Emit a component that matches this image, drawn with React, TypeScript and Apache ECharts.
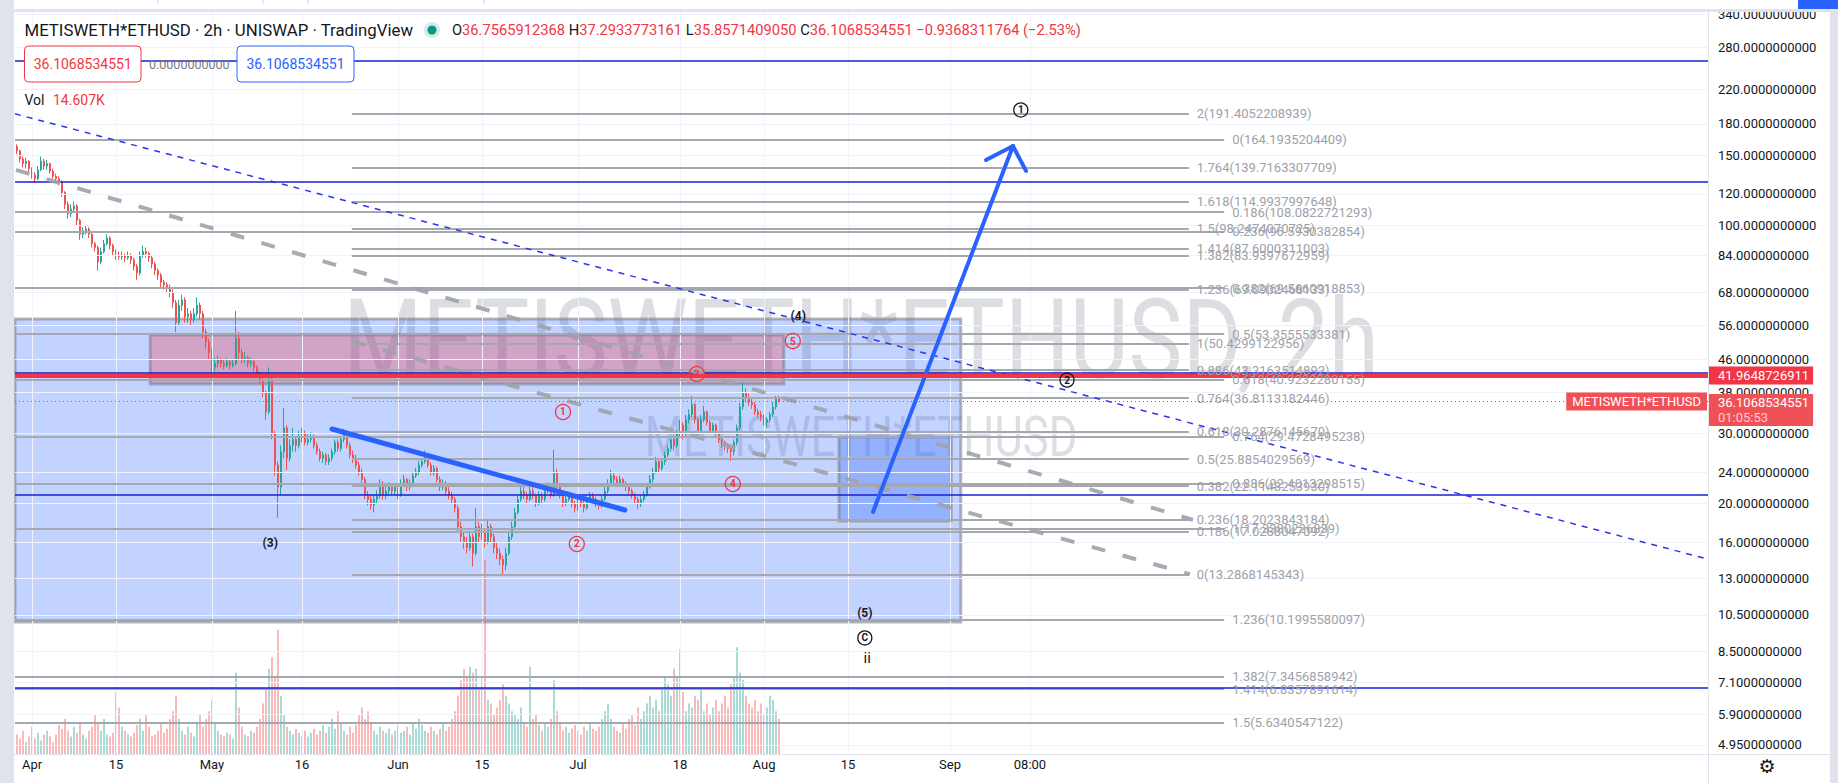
import React, { useEffect, useRef } from 'react';
import * as echarts from 'echarts';

// ---------- data (12h candles, x = days from Apr 1 00:00) ----------
const FIRST_DAY = -2.5;
const CANDLE_STEP = 0.5;
const FIRST_OPEN = 158;

const closes = [
  154, 147, 143, 145, 139, 134, 131, 138, 145, 141, 143, 137, 133, 131, 129, 121, 113,
  107, 110, 112, 103, 95, 97, 98, 95, 90, 88, 81, 86, 90, 93, 89, 86,
  84, 83.5, 84, 83, 84, 82, 79, 76, 84, 86, 85, 83, 80, 77, 75, 72,
  71, 70, 68, 64, 57, 63, 65, 59, 60, 58, 60, 63, 60, 54, 51, 48,
  44, 45, 46, 45, 44.5, 45.5, 44.5, 45, 52, 48, 46, 46.5, 45, 45.5, 44, 42.5,
  41, 38, 34, 41, 30, 25, 22, 27, 31, 26, 28, 29, 28, 29.5, 30, 28.5,
  29, 29.5, 28, 27, 26, 26.5, 25.5, 26, 27, 28.5, 27.5, 29, 30, 28, 26.5, 26,
  25, 24, 23, 21, 20.5, 19.8, 20.5, 21, 22.5, 21, 21.5, 22, 21.5, 22, 21, 22.5,
  23, 22, 22.5, 23.5, 24, 25, 25.5, 26.5, 25, 24, 24.5, 23, 22, 22.5, 21.5, 21,
  20.5, 19.5, 17.5, 16.5, 16, 15.5, 16.5, 15, 17.5, 16.5, 17, 16, 17.5, 16.5, 15.5, 15,
  14.5, 14, 15, 16.5, 17.5, 19, 20.5, 21.5, 21, 20.5, 21.5, 21, 20, 21, 20.5, 21.5,
  22, 21, 24, 22, 21, 20, 20.5, 21, 20, 19.5, 20.5, 20, 19.5, 20.5, 21, 20.5,
  20, 19.8, 20.5, 21.5, 22.5, 23.5, 23, 22.5, 23, 22.5, 22, 21.5, 21, 20.5, 20, 20.5,
  21, 22, 23, 24, 25.5, 24.5, 25.5, 26.5, 27.5, 29, 28, 30, 31.5, 30, 32.5, 33.5,
  35.5, 32.5, 30.5, 32.5, 34, 32, 30.5, 31.5, 30, 29, 28.5, 28, 27.5, 27, 28.5, 31,
  35, 38, 37, 36, 35.5, 34, 33.5, 33, 32, 32.5, 33.5, 35, 36.76, 36.1068534551,
];
const highs = [
  160, 155, 149, 148, 146, 140, 136, 141, 149, 147, 146, 144, 139, 135, 133, 130, 122,
  115, 113, 115, 113, 104, 99, 100, 99, 96, 91, 89, 88, 92, 95, 94, 90,
  87, 86, 86, 85, 86, 85, 83, 80, 86, 89, 88, 86, 84, 81, 78, 76,
  73, 72, 71, 69, 65, 65, 67, 66, 62, 61, 62, 66, 64, 61, 55, 52,
  49, 46.5, 47, 46.5, 46, 46.5, 46, 46, 61, 54, 49, 48, 47, 46.5, 46, 44.5,
  43, 41.5, 38.5, 44, 41.5, 30.5, 25.5, 28, 34.7, 31.5, 29, 31, 29.5, 30.5, 31, 30.5,
  30, 30.2, 29.8, 28.5, 27.5, 27, 26.8, 26.6, 27.5, 29, 29, 29.6, 30.8, 30.3, 28.5, 27.2,
  26.5, 25.5, 24.5, 23.3, 21.5, 21, 21, 21.6, 23, 22.8, 22, 22.6, 22.3, 22.5, 22.3, 23,
  23.6, 23.2, 23, 24, 24.6, 25.6, 26, 27.2, 26.8, 25.4, 25, 24.8, 23.4, 23, 22.8, 22,
  21.4, 20.8, 19.8, 18, 17, 16.5, 17, 16.8, 19.5, 18, 17.8, 17.3, 18.2, 17.8, 16.8, 16,
  15.4, 14.8, 15.5, 17, 18, 19.5, 21, 22.2, 22, 21.4, 22, 22, 21.2, 21.5, 21.3, 22,
  22.6, 22.3, 27.3, 24.5, 22.4, 21.3, 21, 21.4, 21.2, 20.3, 20.8, 20.8, 20.3, 20.8, 21.4, 21.3,
  20.8, 20.4, 20.9, 22, 23, 24.3, 24, 23.4, 23.5, 23.2, 22.8, 22.3, 21.8, 21.3, 20.8, 21,
  21.5, 22.4, 23.6, 24.6, 26.2, 25.8, 26, 27, 28, 29.6, 29.8, 30.6, 32.5, 32, 33.4, 34.5,
  37.3, 35.8, 33, 33.4, 35.2, 34.3, 32.4, 32, 31.8, 30.4, 29.4, 28.8, 28.4, 27.8, 29, 31.6,
  35.8, 40.3, 39, 37.8, 36.8, 36, 34.6, 34.2, 33.5, 33, 34, 36, 37.3, 37.29,
];
const lows = [
  151, 144, 140, 139, 136, 131, 128, 130, 137, 138, 138, 135, 131, 128, 126, 118, 110,
  104, 105, 108, 100, 92, 93, 95, 93, 88, 86, 77, 80, 85, 89, 87, 84,
  82, 82, 82, 81, 82, 80, 77, 73, 75, 83, 83, 81, 78, 75, 73, 70,
  69, 68, 66, 62, 54, 56, 61, 57, 57, 56, 57, 59, 58, 52, 49, 46,
  41, 43, 44, 44, 43.5, 44, 43.5, 44, 44.5, 46, 45, 45, 44, 44, 43, 41.5,
  40, 37, 32.5, 33.5, 29, 23.5, 18.4, 21, 26, 24.3, 25.5, 27, 27, 27.5, 28.5, 28,
  28, 28.5, 27.5, 26.5, 25.5, 25.3, 25, 25, 25.6, 26.5, 27, 27, 28.5, 27.5, 26, 25.3,
  24.5, 23.5, 22.3, 20.5, 19.8, 19.3, 19, 20, 20.6, 20.5, 20.5, 21, 21, 21, 20.5, 20.8,
  22, 21.5, 21.6, 22.2, 23.2, 23.6, 24.6, 25.2, 24.6, 23.5, 23.5, 22.6, 21.5, 21.6, 21, 20.5,
  20, 19, 17, 16, 15.4, 15, 15.2, 13.9, 14.8, 16, 16.2, 15.5, 15.8, 16, 15, 14.5,
  14, 13.3, 13.6, 14.8, 16.2, 17.2, 18.8, 20.2, 20.5, 20, 20.3, 20.5, 19.6, 19.8, 20, 20.2,
  21.2, 20.6, 20.8, 21.5, 20.6, 19.6, 19.7, 20.2, 19.6, 19, 19.2, 19.6, 19, 19.3, 20.2, 20,
  19.6, 19.3, 19.5, 20.3, 21.2, 22.3, 22.5, 22, 22.2, 22, 21.5, 21, 20.6, 20, 19.4, 19.6,
  20.2, 20.8, 21.8, 22.6, 23.8, 24, 24.2, 25, 26.2, 27, 27.2, 27.6, 29.4, 29, 29.6, 31.8,
  33, 31.8, 29.5, 30, 32, 31.4, 30, 30, 29.4, 28.4, 27.6, 27.2, 26.8, 25.6, 26.4, 28,
  30.6, 34.4, 36, 35.2, 34.6, 33.4, 32.8, 32.2, 31.4, 31, 32, 33, 34.5, 35.86,
];
const volumes = [
  10, 8, 12, 6, 9, 14, 8, 11, 7, 10, 12, 9, 6, 10, 15, 13, 18,
  12, 9, 14, 11, 16, 10, 8, 12, 14, 20, 16, 12, 18, 10, 9, 11,
  32, 24, 14, 12, 10, 9, 11, 15, 18, 12, 20, 14, 9, 10, 12, 16,
  11, 13, 18, 22, 30, 18, 12, 10, 14, 11, 9, 16, 20, 14, 18, 22,
  28, 16, 12, 10, 9, 11, 10, 8, 42, 24, 14, 10, 9, 12, 11, 14,
  18, 26, 34, 44, 50, 40, 64, 30, 20, 14, 12, 10, 13, 11, 9, 12,
  9, 11, 13, 10, 12, 15, 11, 14, 18, 13, 22, 16, 12, 10, 14, 11,
  15, 20, 24, 18, 22, 16, 12, 10, 14, 12, 11, 13, 10, 12, 15, 11,
  12, 14, 10, 16, 13, 18, 15, 12, 11, 14, 12, 10, 13, 16, 12, 14,
  18, 22, 30, 38, 44, 40, 45, 42, 44, 34, 40, 100, 28, 26, 20, 24,
  28, 36, 30, 26, 22, 20, 18, 24, 16, 14, 45, 18, 20, 15, 12, 16,
  14, 18, 38, 22, 16, 12, 14, 11, 13, 15, 12, 10, 14, 12, 16, 13,
  12, 14, 18, 22, 26, 18, 14, 12, 11, 16, 13, 18, 20, 15, 24, 18,
  22, 26, 30, 24, 28, 22, 34, 40, 36, 30, 44, 40, 54, 32, 22, 26,
  24, 30, 28, 34, 22, 26, 20, 24, 28, 22, 26, 30, 24, 36, 40, 55,
  42, 38, 30, 26, 24, 28, 22, 26, 20, 24, 30, 28, 22, 18,
];

const priceTicks = [340, 280, 220, 180, 150, 120, 100, 84, 68, 56, 46, 38, 30, 24, 20, 16, 13, 10.5, 8.5, 7.1, 5.9, 4.95];
const timeTickDays = [0, 14, 30, 45, 61, 75, 91, 108, 122, 136, 153, 166.33];
const timeTickLabels = ['Apr', '15', 'May', '16', 'Jun', '15', 'Jul', '18', 'Aug', '15', 'Sep', '08:00'];

// Fibonacci tools: [ratio, price]
const fibA: [number, number][] = [
  [2, 191.4052208939], [1.764, 139.7163307709], [1.618, 114.9937997648], [1.5, 98.2474070725],
  [1.414, 87.6000311003], [1.382, 83.9397672959], [1.236, 69.0902468133], [1, 50.4299122956],
  [0.886, 43.3163514892], [0.764, 36.8113182446], [0.618, 30.287614567], [0.5, 25.8854029569],
  [0.382, 22.114825393], [0.236, 18.2023843184], [0.186, 17.0288047092], [0, 13.2868145343],
];
const fibB: [number, number][] = [
  [0, 164.1935204409], [0.186, 108.0822721293], [0.236, 96.5930382854], [0.382, 69.5660918853],
  [0.5, 53.3555533381], [0.618, 40.9232280155], [0.764, 29.4728495238], [0.886, 22.4013298515],
  [1, 17.3380226839], [1.236, 10.1995580097], [1.382, 7.3456858942], [1.414, 6.8357891614],
  [1.5, 5.6340547122],
];
const blueLevels = [259.2, 128.6, 42.6, 21.1, 6.88];
const LAST_PRICE = 36.1068534551;
const RED_LEVEL = 41.9648726911;

// ---------- axis ranges ----------
const X_MIN = -2.8333, X_MAX = 279.3333;
const Y_MIN = 4.6953, Y_MAX = 343.96;

const F = 'Roboto, "Noto Sans", Arial, sans-serif';

function buildOption() {
  const candleData = closes.map((c, i) => {
    const o = i === 0 ? FIRST_OPEN : closes[i - 1];
    return [FIRST_DAY + i * CANDLE_STEP, o, c, lows[i], highs[i]];
  });
  const volData = volumes.map((v, i) => {
    const o = i === 0 ? FIRST_OPEN : closes[i - 1];
    const up = closes[i] >= o;
    return { value: [FIRST_DAY + i * CANDLE_STEP, v], itemStyle: { color: up ? 'rgba(38,166,154,0.5)' : 'rgba(239,83,80,0.5)' } };
  });

  const gridLines: any[] = [
    ...priceTicks.map((p) => [
      { coord: [X_MIN, p], label: { show: true, position: 'end', distance: 10, formatter: p.toFixed(10), color: '#131722', fontSize: 13, fontFamily: F } },
      { coord: [X_MAX, p] },
    ]),
    ...timeTickDays.map((d, i) => [
      { coord: [d, Y_MIN], label: { show: true, position: 'start', distance: 4, formatter: timeTickLabels[i], color: '#131722', fontSize: 13, fontFamily: F } },
      { coord: [d, Y_MAX] },
    ]),
  ];

  const fibStyle = { color: '#a6a8b0', width: 2, type: 'solid' };
  const fibLabel = (r: number, p: number) => ({
    show: true, position: 'end', distance: 8, formatter: `${r}(${p.toFixed(10)})`, color: '#9ea1aa', fontSize: 13, fontFamily: F,
  });
  const A_START = 53.3, A_END = 192.8, B_END = 198.7;

  const seg = (a: number[], b: number[], ls: any) => [{ coord: a, lineStyle: ls, label: { show: false } }, { coord: b }];
  const hidden = { color: 'rgba(0,0,0,0)', width: 1, type: 'solid', opacity: 1 };

  const blueArrow = { color: '#2962ff', width: 4, type: 'solid', cap: 'round' };
  const drawLines: any[] = [
    ...fibB.map(([r, p]) => [{ coord: [X_MIN, p], lineStyle: fibStyle, label: fibLabel(r, p) }, { coord: [B_END, p] }]),
    ...fibA.map(([r, p]) => [{ coord: [A_START, p], lineStyle: fibStyle, label: fibLabel(r, p) }, { coord: [A_END, p] }]),
    ...blueLevels.map((p) => seg([X_MIN, p], [X_MAX, p], { color: '#1a1fcf', width: 1.5, type: 'solid' })),
    seg([X_MIN, 190.8], [X_MAX, 14.5], { color: '#2d35e8', width: 1.5, type: [6, 6] }),
    seg([-2.67, 137.9], [193.5, 18.2], { color: 'rgba(160,162,170,0.9)', width: 4, type: [14, 18] }),
    seg([53.3, 51.2], [193.0, 13.29], { color: 'rgba(160,162,170,0.9)', width: 4, type: [14, 18] }),
    seg([50.0, 30.8], [98.8, 19.27], { color: '#2962ff', width: 5, type: 'solid', cap: 'round' }),
    seg([140.17, 19.05], [163.5, 158.4], blueArrow),
    seg([163.5, 158.4], [159.0, 146.1], blueArrow),
    seg([163.5, 158.4], [165.67, 137.1], blueArrow),
    [
      { coord: [X_MIN, RED_LEVEL], lineStyle: { color: '#f23645', width: 4, type: 'solid' }, label: { show: true, position: 'end', distance: 0, formatter: '41.9648726911', backgroundColor: '#f23645', color: '#ffffff', padding: [2, 4, 1, 10], fontSize: 13, lineHeight: 15, fontFamily: F } },
      { coord: [X_MAX, RED_LEVEL] },
    ],
    [
      { coord: [X_MIN, LAST_PRICE], lineStyle: { color: '#f23645', width: 1, type: [1, 3] }, label: { show: true, position: 'insideEnd', distance: 1, formatter: 'METISWETH*ETHUSD', backgroundColor: '#f05157', color: '#ffffff', padding: [2, 6, 1, 6], fontSize: 13, lineHeight: 15, fontFamily: F } },
      { coord: [X_MAX, LAST_PRICE] },
    ],
    [
      { coord: [X_MAX - 1, 34.37], lineStyle: hidden, label: { show: true, position: 'end', distance: 0, formatter: '{a|36.1068534551}\n{b|01:05:53}', backgroundColor: '#f05157', padding: [1, 4, 1, 10], rich: { a: { color: '#ffffff', fontSize: 13, lineHeight: 15, fontFamily: F }, b: { color: 'rgba(255,255,255,0.72)', fontSize: 13, lineHeight: 15, fontFamily: F } } } },
      { coord: [X_MAX, 34.37] },
    ],
  ];

  const rects: any[] = [
    [{ coord: [X_MIN, 58.2], itemStyle: { color: 'rgba(41,98,255,0.28)', borderColor: 'rgba(120,123,134,0.55)', borderWidth: 3 } }, { coord: [154.8, 10.08] }],
    [{ coord: [19.7, 53.06], itemStyle: { color: 'rgba(242,54,69,0.3)', borderColor: 'rgba(120,123,134,0.55)', borderWidth: 3 } }, { coord: [125.3, 39.95] }],
    [{ coord: [134.5, 29.4], itemStyle: { color: 'rgba(41,98,255,0.3)', borderColor: 'rgba(120,123,134,0.55)', borderWidth: 3 } }, { coord: [153.2, 18.08] }],
  ];

  const circ = (t: string, d: number, p: number, col: string, size: number) => ({
    coord: [d, p], symbol: 'circle', symbolSize: size,
    itemStyle: { color: 'rgba(255,255,255,0)', borderColor: col, borderWidth: 1.3 },
    label: { show: true, position: 'inside', formatter: t, color: col, fontSize: 10, fontWeight: 'bold', fontFamily: F },
  });
  const txt = (t: string, d: number, p: number, size: number, weight: string) => ({
    coord: [d, p], symbol: 'circle', symbolSize: 1, itemStyle: { color: 'rgba(0,0,0,0)' },
    label: { show: true, position: 'inside', formatter: t, color: '#131722', fontSize: size, fontWeight: weight, fontFamily: F },
  });
  const waveMarks = [
    circ('1', 88.5, 33.98, '#f23645', 15),
    circ('2', 90.8, 15.83, '#f23645', 15),
    circ('3', 110.8, 42.33, '#f23645', 15),
    circ('4', 116.8, 22.4, '#f23645', 15),
    circ('5', 126.8, 51.24, '#f23645', 15),
    circ('1', 164.8, 195.1, '#131722', 14),
    circ('2', 172.5, 40.88, '#131722', 14),
    circ('C', 138.8, 9.19, '#131722', 14),
    txt('(3)', 39.7, 15.92, 12, 'bold'),
    txt('(4)', 127.7, 59.22, 12, 'bold'),
    txt('(5)', 138.8, 10.62, 12, 'bold'),
    txt('ii', 139.2, 8.18, 15, 'normal'),
  ];

  const dummy = (z: number) => ({
    type: 'line', xAxisIndex: 0, yAxisIndex: 0, data: [[X_MIN - 50, 20]], symbol: 'none',
    lineStyle: { opacity: 0 }, silent: true, clip: false, z,
  });

  const T = (text: string, x: number, y: number, size: number, fill: string, extra: any = {}) => ({
    type: 'text', x, y, z: 100, silent: true,
    style: { text, fontSize: size, fontFamily: F, fill, align: 'left', verticalAlign: 'middle', ...extra },
  });

  const graphic: any[] = [
    // watermarks
    { type: 'text', x: 861, y: 340, z: 0, scaleX: 0.81, silent: true, style: { text: 'METISWETH*ETHUSD, 2h', fontSize: 112, fontFamily: F, fill: 'rgba(120,123,134,0.25)', align: 'center', verticalAlign: 'middle' } },
    { type: 'text', x: 861, y: 436, z: 0, scaleX: 0.78, silent: true, style: { text: 'METISWETH*ETHUSD', fontSize: 56, fontFamily: F, fill: 'rgba(120,123,134,0.25)', align: 'center', verticalAlign: 'middle' } },
    // frame
    { type: 'rect', z: 100, silent: true, shape: { x: 0, y: 0, width: 1838, height: 9 }, style: { fill: '#ffffff' } },
    { type: 'rect', z: 100, silent: true, shape: { x: 0, y: 9, width: 1838, height: 3 }, style: { fill: '#e0e3eb' } },
    { type: 'rect', z: 100, silent: true, shape: { x: 0, y: 0, width: 14, height: 783 }, style: { fill: '#e0e3eb' } },
    { type: 'rect', z: 100, silent: true, shape: { x: 1830, y: 0, width: 8, height: 783 }, style: { fill: '#e0e3eb' } },
    { type: 'rect', z: 101, silent: true, shape: { x: 1798, y: 0, width: 40, height: 9 }, style: { fill: '#2962ff' } },
    ...[158, 263, 308, 484].map((x) => ({ type: 'line', z: 100, silent: true, shape: { x1: x, y1: 0, x2: x, y2: 4 }, style: { stroke: '#d1d4dc', lineWidth: 1 } })),
    { type: 'line', z: 99, silent: true, shape: { x1: 1708.5, y1: 12, x2: 1708.5, y2: 783 }, style: { stroke: '#e0e3eb', lineWidth: 1 } },
    { type: 'line', z: 99, silent: true, shape: { x1: 14, y1: 754.5, x2: 1830, y2: 754.5 }, style: { stroke: '#e0e3eb', lineWidth: 1 } },
    { type: 'text', x: 1767, y: 766, z: 100, silent: true, style: { text: '\u2699', fontSize: 19, fontFamily: '"DejaVu Sans", sans-serif', fill: '#131722', align: 'center', verticalAlign: 'middle' } },
    // legend
    T('METISWETH*ETHUSD \u00b7 2h \u00b7 UNISWAP \u00b7 TradingView', 24.5, 30, 16.8, '#131722'),
    { type: 'circle', z: 100, silent: true, shape: { cx: 432, cy: 30, r: 8 }, style: { fill: 'rgba(8,153,129,0.18)' } },
    { type: 'circle', z: 101, silent: true, shape: { cx: 432, cy: 30, r: 4.5 }, style: { fill: '#089981' } },
    {
      type: 'text', x: 452, y: 30, z: 100, silent: true,
      style: {
        text: '{l|O}{v|36.7565912368} {l|H}{v|37.2933773161} {l|L}{v|35.8571409050} {l|C}{v|36.1068534551} {v|\u22120.9368311764 (\u22122.53%)}',
        fontSize: 14.7, fontFamily: F, fill: '#131722', align: 'left', verticalAlign: 'middle',
        rich: { l: { fill: '#131722', color: '#131722', fontSize: 14.7, fontFamily: F }, v: { fill: '#f23645', color: '#f23645', fontSize: 14.7, fontFamily: F } },
      },
    },
    { type: 'rect', z: 100, silent: true, shape: { x: 24.5, y: 46, width: 116.5, height: 36, r: 4 }, style: { fill: '#ffffff', stroke: '#f23645', lineWidth: 1 } },
    { type: 'text', x: 82.75, y: 64, z: 101, silent: true, style: { text: '36.1068534551', fontSize: 14, fontFamily: F, fill: '#f23645', align: 'center', verticalAlign: 'middle' } },
    T('0.0000000000', 149, 64, 12.5, '#787b86'),
    { type: 'rect', z: 100, silent: true, shape: { x: 237, y: 46, width: 117, height: 36, r: 4 }, style: { fill: '#ffffff', stroke: '#2962ff', lineWidth: 1 } },
    { type: 'text', x: 295.5, y: 64, z: 101, silent: true, style: { text: '36.1068534551', fontSize: 14, fontFamily: F, fill: '#2962ff', align: 'center', verticalAlign: 'middle' } },
    T('Vol', 24.5, 100, 14, '#131722'),
    T('14.607K', 53, 100, 14, '#f23645'),
  ];

  return {
    animation: false,
    backgroundColor: '#ffffff',
    textStyle: { fontFamily: F },
    grid: [
      { left: 15, right: 130, top: 12, bottom: 29 },
      { left: 15, right: 130, top: 560, bottom: 29 },
    ],
    xAxis: [
      { type: 'value', gridIndex: 0, min: X_MIN, max: X_MAX, show: false },
      { type: 'value', gridIndex: 1, min: X_MIN, max: X_MAX, show: false },
    ],
    yAxis: [
      { type: 'log', logBase: 10, gridIndex: 0, min: Y_MIN, max: Y_MAX, show: false },
      { type: 'value', gridIndex: 1, min: 0, max: 100, show: false },
    ],
    series: [
      {
        ...dummy(1),
        markLine: { silent: true, symbol: ['none', 'none'], animation: false, lineStyle: { color: '#f0f3fa', width: 1, type: 'solid' }, label: { show: false }, emphasis: { disabled: true }, data: gridLines },
      },
      { type: 'bar', xAxisIndex: 1, yAxisIndex: 1, data: volData, barWidth: 1.6, silent: true, z: 1 },
      {
        type: 'candlestick', xAxisIndex: 0, yAxisIndex: 0, data: candleData, encode: { x: 0, y: [1, 2, 3, 4] },
        barWidth: 2, silent: true, z: 2,
        itemStyle: { color: '#26a69a', color0: '#ef5350', borderColor: '#26a69a', borderColor0: '#ef5350', borderWidth: 1 },
      },
      { ...dummy(3), markArea: { silent: true, animation: false, emphasis: { disabled: true }, label: { show: false }, data: rects } },
      { ...dummy(4), markLine: { silent: true, symbol: ['none', 'none'], animation: false, label: { show: false }, emphasis: { disabled: true }, data: drawLines } },
      { ...dummy(5), markPoint: { silent: true, animation: false, emphasis: { disabled: true }, data: waveMarks } },
    ],
    graphic,
  };
}

export default function App() {
  const ref = useRef<HTMLDivElement>(null);
  useEffect(() => {
    document.body.style.margin = '0';
    const chart = echarts.init(ref.current!, null, { renderer: 'svg' });
    chart.setOption(buildOption() as any);
    return () => chart.dispose();
  }, []);
  return <div ref={ref} style={{ position: 'absolute', left: 0, top: 0, width: 1838, height: 783, background: '#ffffff' }} />;
}
